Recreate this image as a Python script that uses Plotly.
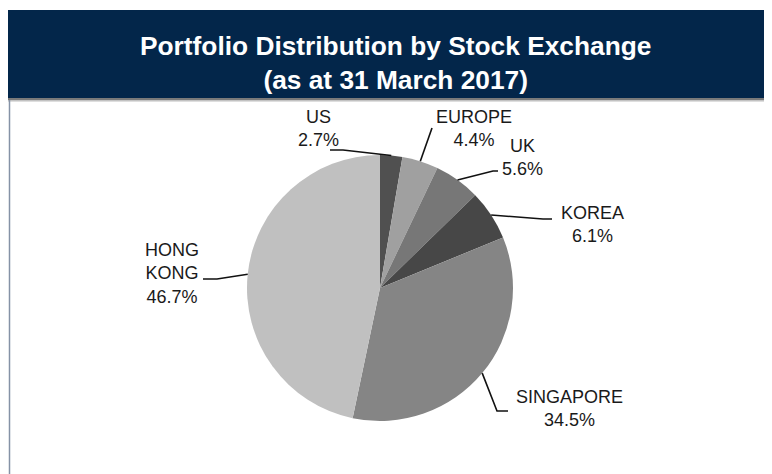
import math
import plotly.graph_objects as go

# ---- data ----
labels = ["US", "EUROPE", "UK", "KOREA", "SINGAPORE", "HONG KONG"]
display_names = ["US", "EUROPE", "UK", "KOREA", "SINGAPORE", "HONG<br>KONG"]
values = [2.7, 4.4, 5.6, 6.1, 34.5, 46.7]
title_lines = ["Portfolio Distribution by Stock Exchange", "(as at 31 March 2017)"]

# ---- style ----
colors = ["#505050", "#a0a0a0", "#777777", "#474747", "#858585", "#c0c0c0"]
W, H = 772, 474
OFF = 8                            # page body margin (screen px)
CX, CY, R = 380, 288, 133          # pie centre / radius in screen px
FONT = "Liberation Sans, Arial, sans-serif"

# label placement (screen px): text centre, leader elbow, leader end
label_layout = {
    "US":        dict(text=(318, 128),   elbow=(343, 150), end=(330, 150)),
    "EUROPE":    dict(text=(474, 128),   elbow=(432, 128), end=(432, 128)),
    "UK":        dict(text=(522, 157),   elbow=(493, 171), end=(498, 171)),
    "KOREA":     dict(text=(592, 224),   elbow=(543, 219), end=(552, 219)),
    "SINGAPORE": dict(text=(569, 408),   elbow=(497, 411), end=(508, 411)),
    "HONG KONG": dict(text=(172, 273.5), elbow=(217, 279), end=(203, 279)),
}


def pxx(x):
    return (x - OFF) / W


def pxy(y):
    return 1 - (y - OFF) / H


fig = go.Figure()
fig.add_trace(go.Pie(
    labels=labels, values=values, sort=False, direction="clockwise", rotation=0,
    marker=dict(colors=colors, line=dict(width=0)),
    textinfo="none", hoverinfo="label+percent", showlegend=False,
    domain=dict(x=[pxx(CX - R), pxx(CX + R)], y=[pxy(CY + R), pxy(CY - R)]),
))

shapes = [
    # banner
    dict(type="rect", xref="paper", yref="paper", x0=pxx(8), x1=pxx(790), y0=pxy(98), y1=pxy(10),
         fillcolor="#03264a", line=dict(width=0), layer="below"),
    dict(type="rect", xref="paper", yref="paper", x0=pxx(8), x1=pxx(790), y0=pxy(100.5), y1=pxy(98),
         fillcolor="#7a7a7a", line=dict(width=0), layer="below"),
    dict(type="line", xref="paper", yref="paper", x0=pxx(8), x1=pxx(790), y0=pxy(101.2), y1=pxy(101.2),
         line=dict(color="#d0d0d0", width=1), layer="below"),
    # left border
    dict(type="line", xref="paper", yref="paper", x0=pxx(9.5), x1=pxx(9.5), y0=pxy(100), y1=pxy(490),
         line=dict(color="#8592a6", width=1.5), layer="below"),
]

annotations = [
    dict(xref="paper", yref="paper", x=pxx(395), y=pxy(63.5), xanchor="center", yanchor="middle",
         text="<b>" + "<br>".join(title_lines) + "</b>", showarrow=False,
         font=dict(family=FONT, size=26.3, color="#ffffff")),
]

total = sum(values)
cum = 0.0
for lab, name, v in zip(labels, display_names, values):
    mid = (cum + v / 2) / total * 2 * math.pi
    cum += v
    ax = CX + R * math.sin(mid)
    ay = CY - R * math.cos(mid)
    lay = label_layout[lab]
    ex, ey = lay["elbow"]
    nx, ny = lay["end"]
    shapes.append(dict(type="path", xref="paper", yref="paper",
                       path=f"M {pxx(ax)} {pxy(ay)} L {pxx(ex)} {pxy(ey)} L {pxx(nx)} {pxy(ny)}",
                       line=dict(color="#111111", width=1.6)))
    tx, ty = lay["text"]
    annotations.append(dict(xref="paper", yref="paper", x=pxx(tx), y=pxy(ty),
                            xanchor="center", yanchor="middle", showarrow=False,
                            text=f"{name}<br>{v:.1f}%",
                            font=dict(family=FONT, size=18, color="#1a1a1a")))

fig.update_layout(
    width=W, height=H, margin=dict(l=0, r=0, t=0, b=0),
    paper_bgcolor="#ffffff", plot_bgcolor="#ffffff",
    shapes=shapes, annotations=annotations, showlegend=False,
)

fig.write_html("out.html")
